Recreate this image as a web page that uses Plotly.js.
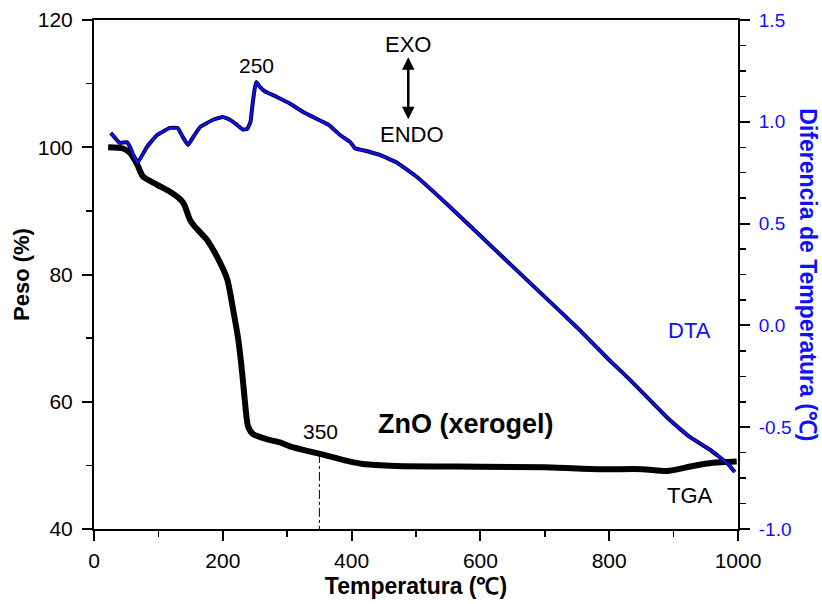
<!DOCTYPE html>
<html>
<head>
<meta charset="utf-8">
<script src="https://cdn.plot.ly/plotly-3.0.1.min.js"></script>
<style>html,body{margin:0;padding:0;background:#fff;}#chart{width:822px;height:604px;}</style>
</head>
<body>
<div id="chart"></div>
<script>
// TGA (weight %) vs temperature
const tgaT = [22,45,56,67,76,98,118,134,140,149,156,175,191,207,216,224,230,234,239,247,269,289,304,351,393,418,470,599,700,786,852,890,930,961,998];
const tgaW = [100,99.8,99.1,97.3,95.4,94.1,93.0,91.8,91.0,88.6,87.6,85.5,82.8,79.2,74.5,69.8,64.6,60.4,56.2,54.9,54.1,53.6,53.0,51.8,50.7,50.2,49.9,49.8,49.7,49.4,49.4,49.1,49.9,50.4,50.6];
// DTA (temperature difference, °C) vs temperature
const dtaT = [26,33,40,51,56,61,68,82,98,118,130,138,146,154,165,185,200,211,222,231,238,243,246,250,252,258,265,284,304,325,346,365,382,398,405,418,444,470,501,550,600,650,700,750,800,830,863,894,925,957,983,995];
const dtaV = [0.945,0.92,0.896,0.90,0.876,0.837,0.80,0.876,0.935,0.97,0.97,0.925,0.886,0.925,0.975,1.01,1.024,1.01,0.985,0.962,0.965,1.0,1.08,1.17,1.195,1.17,1.15,1.122,1.09,1.048,1.014,0.984,0.935,0.90,0.87,0.86,0.837,0.80,0.73,0.59,0.44,0.29,0.14,-0.01,-0.17,-0.26,-0.366,-0.465,-0.548,-0.612,-0.676,-0.72];
// marker line at 350 °C
const markT = [350,350];
const markW = [51.8,40];
// right axis tick labels
const y2Vals = [-1.0,-0.5,0.0,0.5,1.0,1.5];
const y2Text = ['-1.0','-0.5','0.0','0.5','1.0','1.5'];

const FONT = 'Liberation Sans, Arial, sans-serif';
const BLUE = '#1010ff';

const traces = [
  {x: markT, y: markW, type:'scatter', mode:'lines', line:{color:'#000', width:1, dash:'dashdot'}, hoverinfo:'skip', showlegend:false},
  {x: tgaT, y: tgaW, type:'scatter', mode:'lines', line:{color:'#000', width:6, shape:'spline', smoothing:0.6}, showlegend:false},
  {x: dtaT, y: dtaV, yaxis:'y2', type:'scatter', mode:'lines', line:{color:'#00003a', width:4, shape:'spline', smoothing:0.3}, showlegend:false},
  {x: dtaT, y: dtaV, yaxis:'y2', type:'scatter', mode:'lines', line:{color:BLUE, width:2, shape:'spline', smoothing:0.3}, showlegend:false}
];

const axBase = {showline:true, linewidth:2, linecolor:'#000', ticks:'outside', ticklen:10, tickwidth:2, tickcolor:'#000', showgrid:false, zeroline:false};

const layout = {
  width:822, height:604,
  margin:{l:94, r:84, t:20, b:75},
  paper_bgcolor:'#fff', plot_bgcolor:'#fff',
  font:{family:FONT, size:20, color:'#000'},
  xaxis: Object.assign({}, axBase, {range:[0,1000], dtick:200, tick0:0, mirror:true,
    minor:{dtick:100, ticklen:6, tickwidth:1.5, tickcolor:'#000', ticks:'outside'},
    tickfont:{size:21}, ticklabelstandoff:2,
    title:{text:'<b>Temperatura (℃)</b>', font:{size:23}, standoff:7}}),
  yaxis: Object.assign({}, axBase, {range:[40,120], dtick:20, tick0:40,
    minor:{dtick:10, ticklen:6, tickwidth:1.5, tickcolor:'#000', ticks:'outside'},
    tickfont:{size:21}, ticklabelstandoff:5,
    title:{text:'<b>Peso (%)</b>', font:{size:22}, standoff:2}}),
  yaxis2: Object.assign({}, axBase, {overlaying:'y', side:'right', range:[-1,1.5],
    tickvals:y2Vals, ticktext:y2Text,
    minor:{dtick:0.125, tick0:0, ticklen:6, tickwidth:1.5, tickcolor:'#000', ticks:'outside'},
    tickfont:{size:19, color:BLUE}, ticklabelstandoff:5}),
  annotations:[
    {xref:'paper', yref:'paper', x:1.109, y:0.5, xanchor:'center', yanchor:'middle', text:'<b>Diferencia de Temperatura (℃)</b>', textangle:90, showarrow:false, font:{size:23, color:BLUE}},
    {xref:'x', yref:'y', x:253, y:112.9, text:'250', showarrow:false, font:{size:21}},
    {xref:'x', yref:'y', x:351, y:55.4, text:'350', showarrow:false, font:{size:21}},
    {xref:'x', yref:'y', x:488, y:116.1, text:'EXO', showarrow:false, font:{size:22}},
    {xref:'x', yref:'y', x:494, y:102.0, text:'ENDO', showarrow:false, font:{size:22}},
    {xref:'x', yref:'y', x:925, y:71.2, text:'DTA', showarrow:false, font:{size:22, color:BLUE}},
    {xref:'x', yref:'y', x:925, y:45.3, text:'TGA', showarrow:false, font:{size:22}},
    {xref:'x', yref:'y', x:578, y:56.5, text:'<b>ZnO (xerogel)</b>', showarrow:false, font:{size:27}},
    {xref:'x', yref:'y', x:488, y:104.4, axref:'x', ayref:'y', ax:488, ay:114.4, text:'', showarrow:true, arrowhead:2, arrowside:'end+start', arrowsize:1, arrowwidth:2.5, arrowcolor:'#000'}
  ]
};

Plotly.newPlot('chart', traces, layout, {displayModeBar:false, staticPlot:true});
</script>
</body>
</html>
